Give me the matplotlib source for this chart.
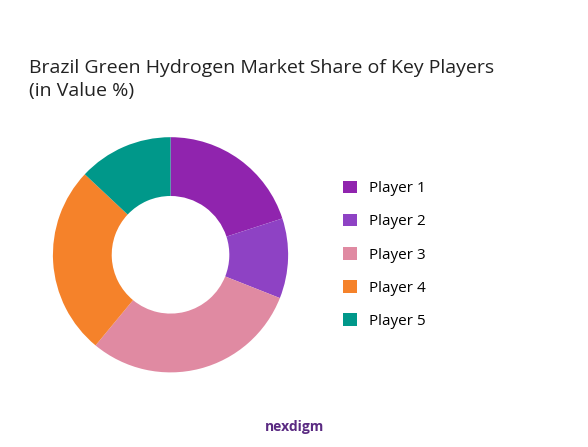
import matplotlib.pyplot as plt

players = ['Player 1', 'Player 2', 'Player 3', 'Player 4', 'Player 5']
shares = [20, 11, 30, 26, 13]
colors = ['#9024AE', '#8E42C4', '#E08AA2', '#F5822A', '#00988A']

fig = plt.figure(figsize=(5.88, 4.47), dpi=100)
ax = fig.add_axes([0.04, 0.10, 0.50, 0.66])
wedges, _ = ax.pie(shares, colors=colors, startangle=90, counterclock=False,
                   wedgeprops=dict(width=0.5))
ax.set_aspect('equal')

fig.text(0.05, 0.785, 'Brazil Green Hydrogen Market Share of Key Players\n(in Value %)',
         fontsize=14, color='#222222', family='Open Sans', linespacing=1.35)
fig.legend(wedges, players, loc='center left', bbox_to_anchor=(0.56, 0.43),
           frameon=False, handlelength=0.9, handleheight=0.9,
           labelspacing=1.15, prop={'family': 'Open Sans', 'size': 11})
fig.text(0.45, 0.035, 'nexdigm', ha='left', fontsize=10, color='#5a2a82',
         family='Open Sans', weight='bold')
fig.savefig('out.png', dpi=100)
